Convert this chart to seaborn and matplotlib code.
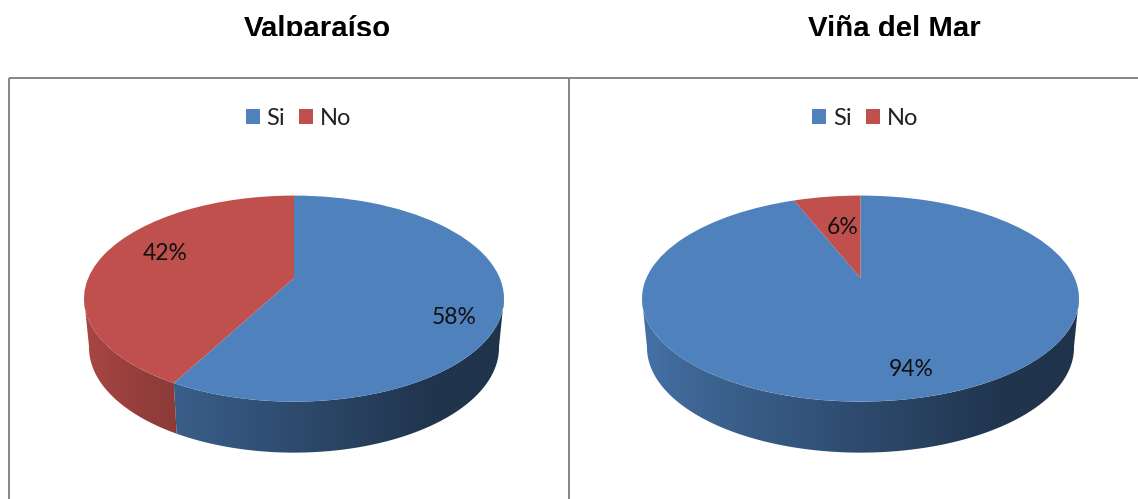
import numpy as np
import matplotlib
matplotlib.use('Agg')
import matplotlib.pyplot as plt
from matplotlib.patches import Polygon, Rectangle
from matplotlib.transforms import Transform
import seaborn as sns

categories = ['Si', 'No']
cities = ['Valparaíso', 'Viña del Mar']
valparaiso_values = [58, 42]
vina_values = [94, 6]
panel_values = [valparaiso_values, vina_values]
colors = ['#4f81bd', '#c0504d']

sns.set_theme(style='white')
plt.rcParams['font.family'] = ['Lato', 'DejaVu Sans']

TILT = 0.2


class TiltTransform(Transform):
    # perspective view of the unit disc, the outline stays an ellipse
    input_dims = 2
    output_dims = 2
    is_separable = False
    has_inverse = False

    def __init__(self, cx, cy, rx, ry, lift, p=TILT):
        super().__init__()
        self.cx, self.cy, self.rx, self.ry, self.lift, self.p = cx, cy, rx, ry, lift, p

    def transform_non_affine(self, values):
        values = np.asarray(values, dtype=float)
        x, y = values[:, 0], values[:, 1]
        d = 1 + self.p * y
        a = self.rx * np.sqrt(1 - self.p ** 2)
        return np.column_stack([self.cx + a * x / d,
                                self.cy - (self.ry * y + self.lift) / d])


def shade(color, t):
    # dark side of the rim, t runs -1 (left) to 1 (right)
    f = np.interp(t, [-1, -0.75, 0, 0.65, 1], [0.88, 0.78, 0.58, 0.41, 0.40])
    return np.outer(f, matplotlib.colors.to_rgb(color))


def draw_panel(ax, values, city, x0, x1, cx, rx, label_pos, legend_x, title_x):
    top = TiltTransform(cx, 298.5, rx, 103, 20.5)
    low = TiltTransform(cx, 347, rx - 5, 105, 20.5)

    wedges, texts, autotexts = ax.pie(values, colors=colors, startangle=90, counterclock=False,
                                      autopct='%.0f%%', radius=1)
    for w, color in zip(wedges, colors):
        w.set_transform(top + ax.transData)
        w.set_zorder(2)
        w.set_edgecolor('none')

        # side of the pie, only the front part shows (below the widest point)
        t = np.radians(np.linspace(w.theta1, w.theta2, 480))
        t = t[np.sin(t) < -TILT + 0.01]
        if len(t) == 0:
            continue
        arc = np.column_stack([np.cos(t), np.sin(t)])
        outline = np.vstack([top.transform_non_affine(arc),
                             low.transform_non_affine(arc)[::-1]])
        grad = shade(color, np.linspace(-1, 1, 256))[np.newaxis, :, :]
        im = ax.imshow(grad, extent=(cx - rx, cx + rx, 480, 280), aspect='auto', zorder=1)
        im.set_clip_path(Polygon(outline, closed=True, transform=ax.transData))

    ax.set_aspect('auto')
    ax.set_xlim(x0, x1)
    ax.set_ylim(499, 0)
    ax.set_axis_off()

    for txt, pos in zip(autotexts, label_pos):
        txt.set_position(pos)
        txt.set(fontsize=16.5, color='#111111', ha='center', va='center')

    left = 9 if x0 == 0 else 569
    ax.add_patch(Rectangle((left, 77.5), 640 if x0 else 560, 440, fill=False,
                           edgecolor='#868686', linewidth=1.4, clip_on=False, zorder=4))

    ax.legend(wedges, categories, ncol=2, frameon=False, loc='center', fontsize=17,
              bbox_to_anchor=(legend_x, 118), bbox_transform=ax.transData,
              handlelength=0.6, handleheight=0.6, handletextpad=0.28, columnspacing=0.6,
              labelcolor='#222222')

    title = ax.text(title_x, 37, city, ha='center', va='baseline', fontsize=21.2,
                    fontweight='bold', color='black', family='Liberation Sans', clip_on=True)
    title.set_clip_path(Rectangle((x0, 0), x1 - x0, 36, transform=ax.transData))


fig = plt.figure(figsize=(11.38, 4.99), dpi=100)
ax_left = fig.add_axes([0, 0, 569 / 1138, 1])
ax_right = fig.add_axes([569 / 1138, 0, 569 / 1138, 1])

draw_panel(ax_left, panel_values[0], cities[0], 0, 569, 294, 210,
           [(454.5, 318), (165.5, 253)], 298.5, 317)
draw_panel(ax_right, panel_values[1], cities[1], 569, 1138, 860.5, 218.5,
           [(911.5, 369), (843, 227)], 865, 894)

fig.savefig('out.png', dpi=100)
